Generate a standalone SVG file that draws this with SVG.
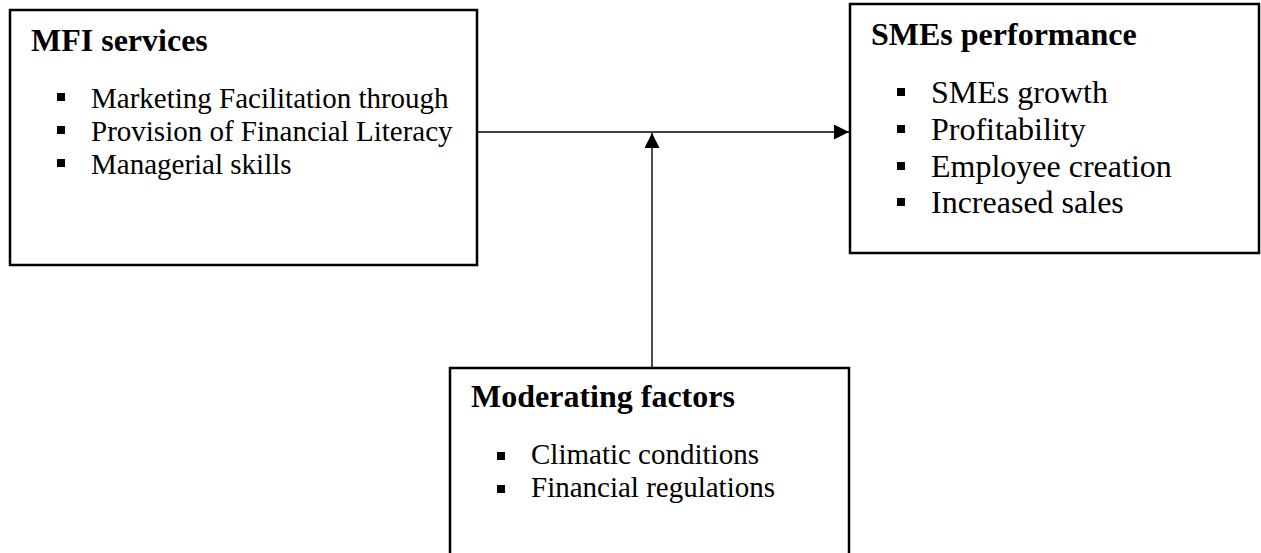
<svg xmlns="http://www.w3.org/2000/svg" width="1261" height="553" viewBox="0 0 1261 553">
  <style>
    .box { fill: #ffffff; stroke: #000000; stroke-width: 2.5; }
    .title { font-family: "Liberation Serif", "Times New Roman", serif; font-weight: bold; font-size: 32px; fill: #000; }
    .item { font-family: "Liberation Serif", "Times New Roman", serif; font-size: 29px; fill: #000; }
    .item-lg { font-family: "Liberation Serif", "Times New Roman", serif; font-size: 32px; fill: #000; }
    .bullet { fill: #000; }
    .conn { fill: none; stroke: #000; stroke-width: 1.4; }
  </style>
  <defs>
    <marker id="arrow" markerWidth="15" markerHeight="15" refX="15" refY="7.5" orient="auto" markerUnits="userSpaceOnUse">
      <path d="M0,0 L15,7.5 L0,15 Z" fill="#000"/>
    </marker>
  </defs>
  <rect width="1261" height="553" fill="#ffffff"/>

  <g id="connectors">
    <line class="conn" x1="477" y1="132" x2="849" y2="132" marker-end="url(#arrow)"/>
    <line class="conn" x1="652" y1="368" x2="652" y2="133" marker-end="url(#arrow)"/>
  </g>

  <g id="mfi-services">
    <rect class="box" x="10" y="10" width="467" height="255"/>
    <text class="title" x="31" y="51">MFI services</text>
    <rect class="bullet" x="57" y="93" width="8" height="8"/>
    <text class="item" x="91" y="108">Marketing Facilitation through</text>
    <rect class="bullet" x="57" y="126" width="8" height="8"/>
    <text class="item" x="91" y="141">Provision of Financial Literacy</text>
    <rect class="bullet" x="57" y="159" width="8" height="8"/>
    <text class="item" x="91" y="174">Managerial skills</text>
  </g>

  <g id="smes-performance">
    <rect class="box" x="850" y="4" width="409" height="249"/>
    <text class="title" x="871" y="45">SMEs performance</text>
    <rect class="bullet" x="897" y="88" width="8" height="8"/>
    <text class="item-lg" x="931" y="103">SMEs growth</text>
    <rect class="bullet" x="897" y="125" width="8" height="8"/>
    <text class="item-lg" x="931" y="140">Profitability</text>
    <rect class="bullet" x="897" y="162" width="8" height="8"/>
    <text class="item-lg" x="931" y="177">Employee creation</text>
    <rect class="bullet" x="897" y="198" width="8" height="8"/>
    <text class="item-lg" x="931" y="213">Increased sales</text>
  </g>

  <g id="moderating-factors">
    <rect class="box" x="450" y="368" width="399" height="200"/>
    <text class="title" x="471" y="407">Moderating factors</text>
    <rect class="bullet" x="497" y="452" width="8" height="8"/>
    <text class="item" x="531" y="464">Climatic conditions</text>
    <rect class="bullet" x="497" y="485" width="8" height="8"/>
    <text class="item" x="531" y="497">Financial regulations</text>
  </g>
</svg>
